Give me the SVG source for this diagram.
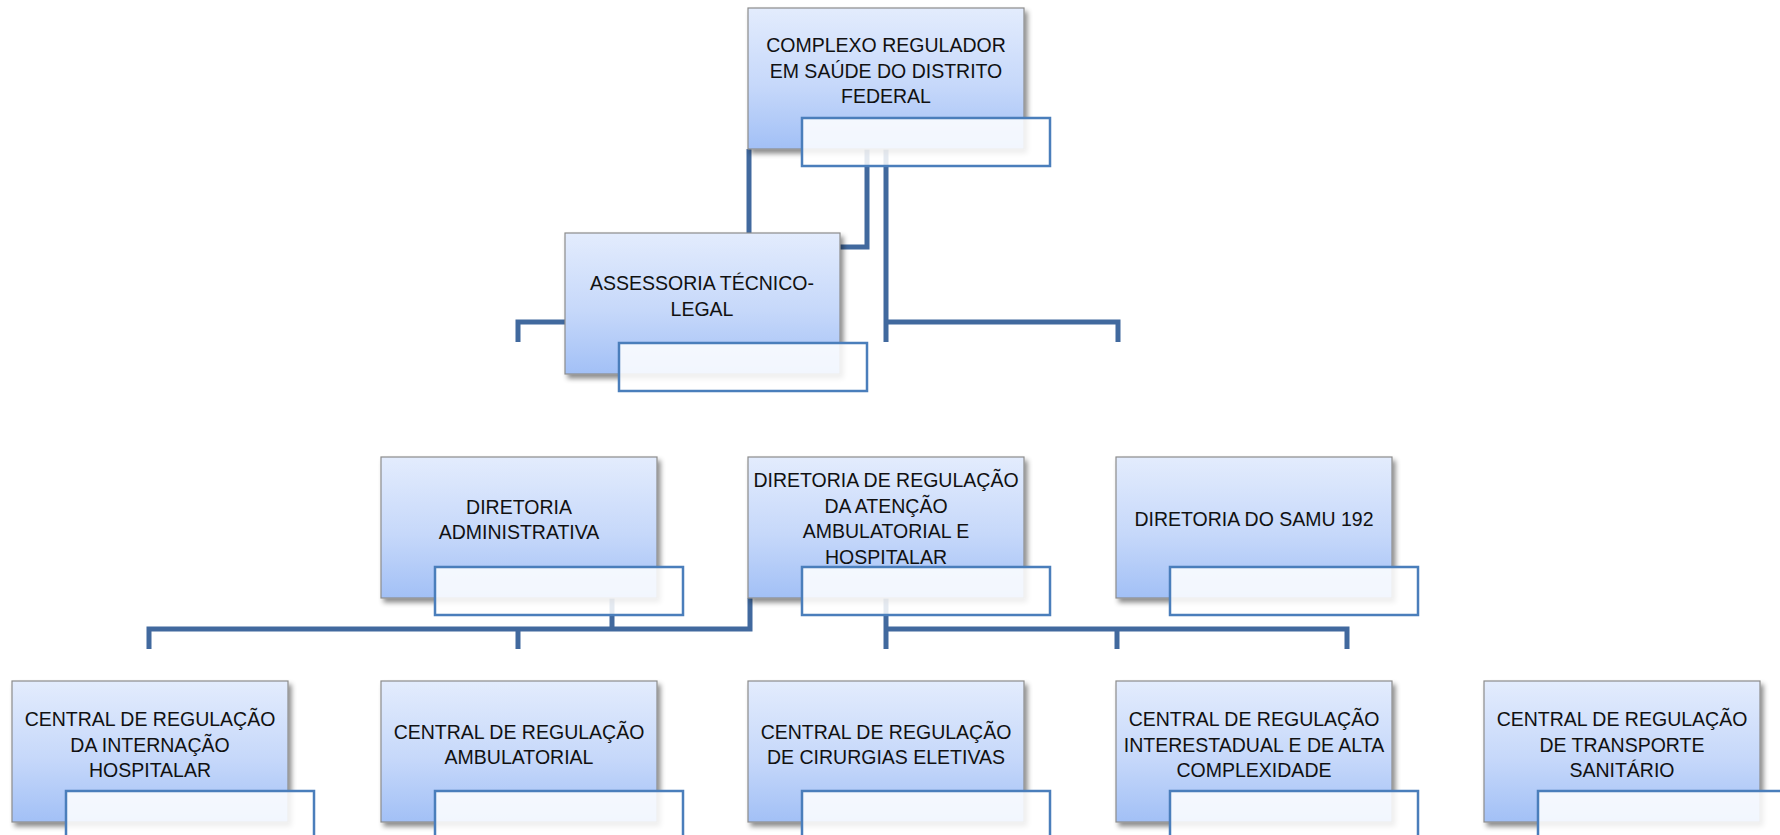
<svg xmlns="http://www.w3.org/2000/svg" width="1780" height="835" viewBox="0 0 1780 835">
<defs>
<linearGradient id="boxGrad" x1="0" y1="0" x2="0" y2="1">
<stop offset="0" stop-color="#e3ecfd"/>
<stop offset="0.55" stop-color="#c6d8fa"/>
<stop offset="1" stop-color="#a2c0f6"/>
</linearGradient>
<filter id="shadow" x="-10%" y="-10%" width="125%" height="130%">
<feDropShadow dx="3" dy="4" stdDeviation="2.5" flood-color="#000" flood-opacity="0.45"/>
</filter>
</defs>
<style>
.box{fill:url(#boxGrad);stroke:#8c8c8c;stroke-width:1.2;filter:url(#shadow)}
.tag{fill:#ffffff;fill-opacity:0.86;stroke:#4a7ebb;stroke-width:2.5}
.conn{fill:none;stroke:#41699e;stroke-width:5;stroke-linejoin:miter;stroke-linecap:butt}
.lbl{font-family:"Liberation Sans",Arial,sans-serif;font-size:19.5px;fill:#111;text-anchor:middle}
</style>
<rect x="0" y="0" width="1780" height="835" fill="#ffffff"/>
<g id="connectors">
<path class="conn" d="M749 149 V236"/>
<path class="conn" d="M867 149 V247 H830"/>
<path class="conn" d="M886 149 V342"/>
<path class="conn" d="M518 342 V322 H575"/>
<path class="conn" d="M886 322 H1118 V342"/>
<path class="conn" d="M612 598 V629"/>
<path class="conn" d="M750 598 V629 H149 V649"/>
<path class="conn" d="M518 629 V649"/>
<path class="conn" d="M886 598 V649"/>
<path class="conn" d="M886 629 H1347 V649"/>
<path class="conn" d="M1117 629 V649"/>
</g>
<g id="node-complexo">
<rect class="box" x="748" y="8" width="276" height="141"/>
<rect class="tag" x="802" y="118" width="248" height="48"/>
<text class="lbl"><tspan x="886" y="52">COMPLEXO REGULADOR</tspan><tspan x="886" y="77.5">EM SAÚDE DO DISTRITO</tspan><tspan x="886" y="103">FEDERAL</tspan></text>
</g>
<g id="node-assessoria">
<rect class="box" x="565" y="233" width="275" height="141"/>
<rect class="tag" x="619" y="343" width="248" height="48"/>
<text class="lbl"><tspan x="702" y="290">ASSESSORIA TÉCNICO-</tspan><tspan x="702" y="315.5">LEGAL</tspan></text>
</g>
<g id="node-dir-adm">
<rect class="box" x="381" y="457" width="276" height="141"/>
<rect class="tag" x="435" y="567" width="248" height="48"/>
<text class="lbl"><tspan x="519" y="513.5">DIRETORIA</tspan><tspan x="519" y="539">ADMINISTRATIVA</tspan></text>
</g>
<g id="node-dir-reg">
<rect class="box" x="748" y="457" width="276" height="141"/>
<rect class="tag" x="802" y="567" width="248" height="48"/>
<text class="lbl"><tspan x="886" y="487">DIRETORIA DE REGULAÇÃO</tspan><tspan x="886" y="512.5">DA ATENÇÃO</tspan><tspan x="886" y="538">AMBULATORIAL E</tspan><tspan x="886" y="563.5">HOSPITALAR</tspan></text>
</g>
<g id="node-samu">
<rect class="box" x="1116" y="457" width="276" height="141"/>
<rect class="tag" x="1170" y="567" width="248" height="48"/>
<text class="lbl"><tspan x="1254" y="526">DIRETORIA DO SAMU 192</tspan></text>
</g>
<g id="node-central-internacao">
<rect class="box" x="12" y="681" width="276" height="141"/>
<rect class="tag" x="66" y="791" width="248" height="48"/>
<text class="lbl"><tspan x="150" y="726">CENTRAL DE REGULAÇÃO</tspan><tspan x="150" y="751.5">DA INTERNAÇÃO</tspan><tspan x="150" y="777">HOSPITALAR</tspan></text>
</g>
<g id="node-central-ambulatorial">
<rect class="box" x="381" y="681" width="276" height="141"/>
<rect class="tag" x="435" y="791" width="248" height="48"/>
<text class="lbl"><tspan x="519" y="738.5">CENTRAL DE REGULAÇÃO</tspan><tspan x="519" y="764">AMBULATORIAL</tspan></text>
</g>
<g id="node-central-cirurgias">
<rect class="box" x="748" y="681" width="276" height="141"/>
<rect class="tag" x="802" y="791" width="248" height="48"/>
<text class="lbl"><tspan x="886" y="738.5">CENTRAL DE REGULAÇÃO</tspan><tspan x="886" y="764">DE CIRURGIAS ELETIVAS</tspan></text>
</g>
<g id="node-central-interestadual">
<rect class="box" x="1116" y="681" width="276" height="141"/>
<rect class="tag" x="1170" y="791" width="248" height="48"/>
<text class="lbl"><tspan x="1254" y="726">CENTRAL DE REGULAÇÃO</tspan><tspan x="1254" y="751.5">INTERESTADUAL E DE ALTA</tspan><tspan x="1254" y="777">COMPLEXIDADE</tspan></text>
</g>
<g id="node-central-transporte">
<rect class="box" x="1484" y="681" width="276" height="141"/>
<rect class="tag" x="1538" y="791" width="248" height="48"/>
<text class="lbl"><tspan x="1622" y="726">CENTRAL DE REGULAÇÃO</tspan><tspan x="1622" y="751.5">DE TRANSPORTE</tspan><tspan x="1622" y="777">SANITÁRIO</tspan></text>
</g>
</svg>
